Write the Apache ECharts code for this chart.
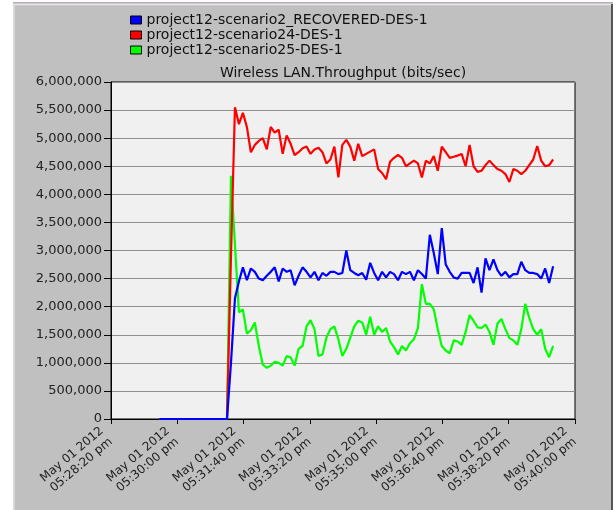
<!DOCTYPE html>
<html>
<head>
<meta charset="utf-8">
<script src="https://cdn.jsdelivr.net/npm/echarts@6/dist/echarts.min.js"></script>
<style>
  html, body { margin: 0; padding: 0; background: #fff; }
  #chart { width: 616px; height: 510px; }
</style>
</head>
<body>
<div id="chart"></div>
<script>
// sample times: seconds after 05:28:20 pm, one bucket every 6 s
const sampleStart = 73;
const sampleStep = 6;

const seriesNames = [
  'project12-scenario2_RECOVERED-DES-1',
  'project12-scenario24-DES-1',
  'project12-scenario25-DES-1'
];

// bits/sec
const recoveredValues = [
  0, 0, 0, 0, 0, 0, 0, 0, 0, 0, 0, 0, 0, 0, 0, 0, 0, 0,
  1000000, 2150000, 2450000, 2700000, 2470000, 2680000, 2620000, 2500000, 2470000, 2550000,
  2620000, 2700000, 2450000, 2680000, 2620000, 2650000, 2380000, 2550000, 2700000, 2620000,
  2520000, 2620000, 2470000, 2600000, 2550000, 2620000, 2620000, 2580000, 2600000, 3000000,
  2650000, 2600000, 2560000, 2600000, 2480000, 2780000, 2600000, 2470000, 2620000, 2520000,
  2620000, 2580000, 2470000, 2620000, 2580000, 2620000, 2470000, 2650000, 2580000, 2500000,
  3280000, 2950000, 2580000, 3400000, 2750000, 2620000, 2520000, 2500000, 2600000, 2600000,
  2600000, 2420000, 2700000, 2250000, 2860000, 2650000, 2840000, 2650000, 2550000, 2620000,
  2520000, 2580000, 2580000, 2800000, 2650000, 2600000, 2600000, 2580000, 2500000, 2680000,
  2420000, 2720000
];

const scenario24Values = [
  0, 0, 0, 0, 0, 0, 0, 0, 0, 0, 0, 0, 0, 0, 0, 0, 0, 0,
  2900000, 5550000, 5250000, 5450000, 5200000, 4750000, 4880000, 4950000, 5000000, 4800000,
  5200000, 5100000, 5150000, 4720000, 5050000, 4900000, 4700000, 4750000, 4820000, 4850000,
  4720000, 4800000, 4830000, 4750000, 4550000, 4620000, 4850000, 4300000, 4880000, 4970000,
  4850000, 4600000, 4900000, 4680000, 4720000, 4760000, 4800000, 4450000, 4380000, 4270000,
  4580000, 4650000, 4700000, 4650000, 4500000, 4550000, 4600000, 4550000, 4300000, 4600000,
  4550000, 4680000, 4420000, 4850000, 4750000, 4650000, 4670000, 4690000, 4720000, 4500000,
  4880000, 4500000, 4400000, 4420000, 4520000, 4600000, 4520000, 4450000, 4420000, 4360000,
  4220000, 4450000, 4420000, 4360000, 4420000, 4520000, 4620000, 4860000, 4600000, 4500000,
  4520000, 4620000
];

const scenario25Values = [
  0, 0, 0, 0, 0, 0, 0, 0, 0, 0, 0, 0, 0, 0, 0, 0, 0, 0,
  4330000, 3100000, 1900000, 1950000, 1520000, 1580000, 1720000, 1300000, 970000, 910000,
  950000, 1020000, 1000000, 950000, 1120000, 1100000, 950000, 1250000, 1300000, 1650000,
  1760000, 1600000, 1120000, 1150000, 1450000, 1600000, 1650000, 1420000, 1120000, 1250000,
  1450000, 1650000, 1750000, 1720000, 1500000, 1820000, 1500000, 1650000, 1550000, 1620000,
  1380000, 1280000, 1150000, 1300000, 1220000, 1350000, 1420000, 1620000, 2400000, 2050000,
  2050000, 1950000, 1600000, 1300000, 1220000, 1170000, 1400000, 1380000, 1320000, 1550000,
  1850000, 1750000, 1630000, 1620000, 1680000, 1550000, 1320000, 1700000, 1780000, 1600000,
  1440000, 1400000, 1320000, 1600000, 2050000, 1800000, 1600000, 1500000, 1600000, 1250000,
  1100000, 1300000
];

const seriesColors = ['#0000ff', '#ff0000', '#00ff00'];
const FONT = 'DejaVu Sans';

function pairs(values) {
  return values.map((v, i) => [sampleStart + i * sampleStep, v]);
}

// x axis value = seconds after 17:28:20
function timeLabel(sec) {
  const total = 17 * 3600 + 28 * 60 + 20 + sec;
  let h = Math.floor(total / 3600);
  const m = Math.floor((total % 3600) / 60);
  const s = total % 60;
  const ampm = h >= 12 ? 'pm' : 'am';
  h = h % 12 || 12;
  const p = n => String(n).padStart(2, '0');
  return 'May 01 2012\n' + p(h) + ':' + p(m) + ':' + p(s) + ' ' + ampm;
}

const chart = echarts.init(document.getElementById('chart'), null, { renderer: 'canvas' });

const option = {
  animation: false,
  backgroundColor: '#ffffff',
  graphic: [
    { type: 'rect', z: -10, shape: { x: 13, y: 3, width: 600, height: 507 }, style: { fill: '#c0c0c0' } },
    { type: 'line', z: -9, shape: { x1: 13, y1: 2.5, x2: 613, y2: 2.5 }, style: { stroke: '#b8aab8', lineWidth: 1 } },
    { type: 'line', z: -9, shape: { x1: 13, y1: 4.5, x2: 611, y2: 4.5 }, style: { stroke: '#e6e6e6', lineWidth: 1.5 } },
    { type: 'line', z: -9, shape: { x1: 14, y1: 4, x2: 14, y2: 510 }, style: { stroke: '#e0e0e0', lineWidth: 1.5 } },
    { type: 'line', z: -9, shape: { x1: 612, y1: 4, x2: 612, y2: 510 }, style: { stroke: '#555555', lineWidth: 2 } }
  ],
  title: {
    text: 'Wireless LAN.Throughput (bits/sec)',
    left: 343,
    top: 66,
    padding: 0,
    textAlign: 'center',
    textStyle: { fontFamily: FONT, fontSize: 14, lineHeight: 14, fontWeight: 'normal', color: '#111' }
  },
  legend: {
    data: seriesNames,
    orient: 'vertical',
    left: 130,
    top: 12.5,
    padding: 0,
    icon: 'rect',
    itemWidth: 11,
    itemHeight: 8,
    itemGap: 0,
    itemStyle: { borderColor: '#000', borderWidth: 1 },
    textStyle: { fontFamily: FONT, fontSize: 14, lineHeight: 15, color: '#111' }
  },
  grid: {
    left: 111, right: 41, top: 82, bottom: 91,
    show: true,
    backgroundColor: '#f0f0f0',
    borderColor: '#000',
    borderWidth: 1
  },
  xAxis: {
    type: 'value',
    min: 0,
    max: 700,
    interval: 100,
    splitLine: { show: false },
    axisLine: { lineStyle: { color: '#000', width: 1 } },
    axisTick: { length: 5, lineStyle: { color: '#000' } },
    axisLabel: {
      rotate: 40,
      margin: 12,
      padding: [0, 6, 0, 0],
      showMinLabel: true,
      showMaxLabel: true,
      fontFamily: FONT,
      fontSize: 12,
      lineHeight: 14,
      color: '#222',
      formatter: timeLabel
    }
  },
  yAxis: {
    type: 'value',
    min: 0,
    max: 6000000,
    interval: 500000,
    axisLine: { show: true, lineStyle: { color: '#000', width: 1 } },
    axisTick: { show: true, length: 7, lineStyle: { color: '#000' } },
    splitLine: { lineStyle: { color: '#909090', width: 1 } },
    axisLabel: {
      margin: 9,
      fontFamily: FONT,
      fontSize: 13,
      color: '#222',
      formatter: v => v.toLocaleString('en-US')
    }
  },
  series: [
    { name: seriesNames[0], data: pairs(recoveredValues), z: 4 },
    { name: seriesNames[1], data: pairs(scenario24Values), z: 3 },
    { name: seriesNames[2], data: pairs(scenario25Values), z: 2 }
  ].map((s, i) => Object.assign({
    type: 'line',
    showSymbol: false,
    color: seriesColors[i],
    itemStyle: { color: seriesColors[i] },
    lineStyle: { color: seriesColors[i], width: 2.2 }
  }, s))
};

chart.setOption(option);
</script>
</body>
</html>
